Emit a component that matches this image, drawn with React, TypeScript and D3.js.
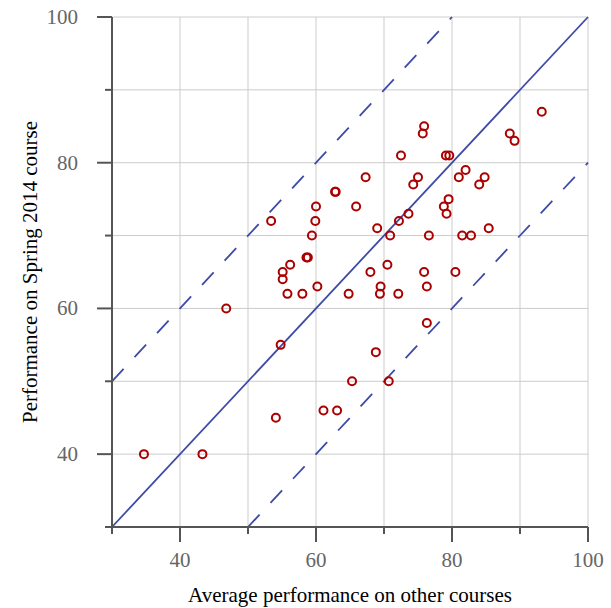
import React from "react";
import * as d3 from "d3";

const otherAvg = [93.2, 75.9, 75.7, 88.5, 89.2, 72.5, 79.1, 79.6, 67.3, 75, 74.3, 81, 82, 84.8, 84, 62.8, 62.9, 79.5, 60, 65.9, 78.8, 79.2, 53.4, 59.9, 73.6, 72.2, 69, 85.4, 59.4, 70.9, 76.6, 81.5, 82.8, 58.6, 58.8, 56.2, 55.1, 55.1, 68, 70.5, 75.9, 80.5, 60.2, 69.5, 76.3, 55.8, 58, 64.8, 69.4, 72.1, 46.8, 76.3, 54.8, 68.8, 65.3, 70.7, 61.1, 63.1, 54.1, 34.7, 43.3];
const spring2014 = [87, 85, 84, 84, 83, 81, 81, 81, 78, 78, 77, 78, 79, 78, 77, 76, 76, 75, 74, 74, 74, 73, 72, 72, 73, 72, 71, 71, 70, 70, 70, 70, 70, 67, 67, 66, 65, 64, 65, 66, 65, 65, 63, 63, 63, 62, 62, 62, 62, 62, 60, 58, 55, 54, 50, 50, 46, 46, 45, 40, 40];
const gridTicks = [40, 50, 60, 70, 80, 90, 100];
const allTicks = [30, 40, 50, 60, 70, 80, 90, 100];
const labelTicks = [40, 60, 80, 100];
const refOffsets = [0, 20, -20];

export default function App() {
  const x = d3.scaleLinear().domain([30, 100]).range([112, 588]);
  const y = d3.scaleLinear().domain([30, 100]).range([527, 17]);
  const font = "'Liberation Serif', 'DejaVu Serif', serif";
  const line = d3.line<[number, number]>().x((d) => x(d[0])).y((d) => y(d[1]));
  const segFor = (o: number): [number, number][] => {
    const x0 = Math.max(30, 30 - o);
    const x1 = Math.min(100, 100 - o);
    return [[x0, x0 + o], [x1, x1 + o]];
  };
  const isMajor = (t: number) => labelTicks.includes(t);
  return (
    <svg width={611} height={608} style={{ position: "absolute", left: 0, top: 0 }}>
      <rect width={611} height={608} fill="#fff" />
      {gridTicks.map((t) => (
        <line key={"gx" + t} x1={x(t)} x2={x(t)} y1={y(30)} y2={y(100)} stroke="#cccccc" strokeWidth={1} />
      ))}
      {gridTicks.map((t) => (
        <line key={"gy" + t} x1={x(30)} x2={x(100)} y1={y(t)} y2={y(t)} stroke="#cccccc" strokeWidth={1} />
      ))}
      {refOffsets.map((o) => (
        <path
          key={"r" + o}
          d={line(segFor(o)) || ""}
          fill="none"
          stroke="#3e4ba6"
          strokeWidth={1.8}
          strokeDasharray={o === 0 ? undefined : "17,16"}
        />
      ))}
      {otherAvg.map((v, i) => (
        <circle key={"p" + i} cx={x(v)} cy={y(spring2014[i])} r={4} fill="none" stroke="#aa0000" strokeWidth={2} />
      ))}
      <line x1={x(30)} x2={x(30)} y1={y(30)} y2={y(100)} stroke="#555" strokeWidth={2} />
      <line x1={x(30)} x2={x(100)} y1={y(30)} y2={y(30)} stroke="#555" strokeWidth={2} />
      {allTicks.map((t) => (
        <line key={"ty" + t} x1={x(30) - (isMajor(t) ? 15 : 7)} x2={x(30)} y1={y(t)} y2={y(t)} stroke="#555" strokeWidth={2} />
      ))}
      {allTicks.map((t) => (
        <line key={"tx" + t} x1={x(t)} x2={x(t)} y1={y(30)} y2={y(30) + (isMajor(t) ? 15 : 7)} stroke="#555" strokeWidth={2} />
      ))}
      {labelTicks.map((t) => (
        <text key={"ly" + t} x={78} y={y(t)} dy="0.33em" textAnchor="end" fontFamily={font} fontSize={21} fill="#666">
          {t}
        </text>
      ))}
      {labelTicks.map((t) => (
        <text key={"lx" + t} x={x(t)} y={567} textAnchor="middle" fontFamily={font} fontSize={21} fill="#666">
          {t}
        </text>
      ))}
      <text x={350} y={602} textAnchor="middle" fontFamily={font} fontSize={21} fill="#000">
        Average performance on other courses
      </text>
      <text
        transform={`translate(37, ${(y(30) + y(100)) / 2}) rotate(-90)`}
        textAnchor="middle"
        fontFamily={font}
        fontSize={21}
        fill="#000"
      >
        Performance on Spring 2014 course
      </text>
    </svg>
  );
}
